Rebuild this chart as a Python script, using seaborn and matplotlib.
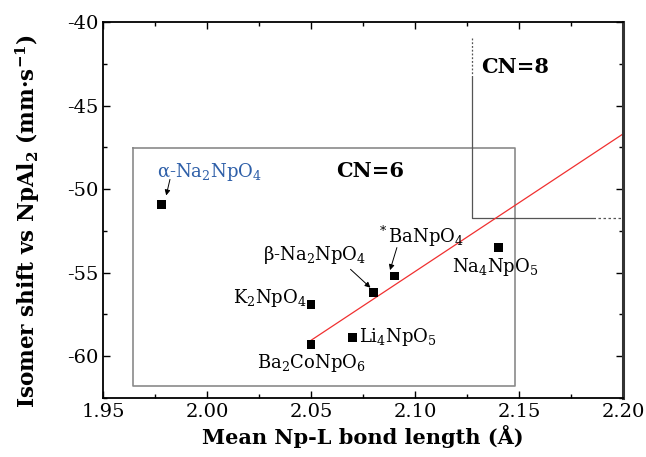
import matplotlib
matplotlib.use("Agg")
import matplotlib.pyplot as plt
import seaborn as sns
import pandas as pd
from matplotlib.ticker import MultipleLocator

# ---- data ----
compounds = ["α-Na$_2$NpO$_4$", "K$_2$NpO$_4$", "Ba$_2$CoNpO$_6$", "β-Na$_2$NpO$_4$",
             "$^*$BaNpO$_4$", "Li$_4$NpO$_5$", "Na$_4$NpO$_5$"]
bond_length = [1.978, 2.050, 2.050, 2.080, 2.090, 2.070, 2.140]
isomer_shift = [-50.9, -56.9, -59.3, -56.2, -55.2, -58.9, -53.5]
fit_x = [2.050, 2.200]
fit_y = [-59.05, -46.7]

df = pd.DataFrame({"x": bond_length, "y": isomer_shift, "name": compounds})
fit = pd.DataFrame({"x": fit_x, "y": fit_y})

sns.set_style("ticks")
plt.rcParams["font.family"] = ["DejaVu Serif"]
plt.rcParams["mathtext.fontset"] = "dejavuserif"
plt.rcParams["axes.unicode_minus"] = False
for k in ["text.color", "axes.labelcolor", "xtick.color", "ytick.color", "axes.edgecolor"]:
    plt.rcParams[k] = "black"

fig = plt.figure(figsize=(6.46, 4.57), dpi=100)
ax = fig.add_axes([0.1594, 0.1291, 0.805, 0.8228])

# boxes
ax.plot([1.9643, 2.1482, 2.1482, 1.9643, 1.9643], [-47.56, -47.56, -61.8, -61.8, -47.56],
        color="#8a8a8a", lw=1.2, zorder=1)
ax.plot([2.1276, 2.1276], [-40.96, -43.3], color="#555555", lw=0.9, ls=(0, (1.5, 1.5)), zorder=1)
ax.plot([2.1276, 2.1276, 2.1856], [-43.3, -51.75, -51.75], color="#555555", lw=0.9, zorder=1)
ax.plot([2.1856, 2.199], [-51.75, -51.75], color="#555555", lw=0.9, ls=(0, (2, 2)), zorder=1)

sns.lineplot(data=fit, x="x", y="y", ax=ax, color="#f03030", lw=0.9, zorder=2)
sns.scatterplot(data=df, x="x", y="y", ax=ax, marker="s", s=40, color="black",
                edgecolor="none", zorder=3)

fs = 13
# labels (left/baseline positions)
lab_pos = {
    0: (1.9758, -49.29),
    1: (2.0125, -56.83),
    2: (2.0240, -60.72),
    3: (2.0269, -54.24),
    4: (2.0815, -53.24),
    5: (2.0733, -59.13),
    6: (2.1176, -54.94),
}
for i, (tx, ty) in lab_pos.items():
    ax.text(tx, ty, compounds[i], fontsize=fs, ha="left", va="baseline",
            color="#2e5fa8" if i == 0 else "black")

arrow = dict(arrowstyle="-|>", color="black", lw=0.7, mutation_scale=8, shrinkA=0, shrinkB=0)
ax.annotate("", xy=(1.9804, -50.38), xytext=(1.9822, -49.42), arrowprops=arrow)
ax.annotate("", xy=(2.0786, -55.9), xytext=(2.0690, -54.8), arrowprops=arrow)
ax.annotate("", xy=(2.0880, -54.85), xytext=(2.0913, -53.5), arrowprops=arrow)

ax.text(2.062, -49.28, "CN=6", fontsize=15, fontweight="bold", ha="left", va="baseline")
ax.text(2.132, -43.03, "CN=8", fontsize=15, fontweight="bold", ha="left", va="baseline")

ax.set_xlim(1.95, 2.20)
ax.set_ylim(-62.5, -40)
ax.xaxis.set_major_locator(MultipleLocator(0.05))
ax.xaxis.set_minor_locator(MultipleLocator(0.025))
ax.yaxis.set_major_locator(MultipleLocator(5))
ax.yaxis.set_minor_locator(MultipleLocator(2.5))
ax.set_xticks([1.95, 2.00, 2.05, 2.10, 2.15, 2.20])
ax.set_xticklabels(["1.95", "2.00", "2.05", "2.10", "2.15", "2.20"])
ax.tick_params(which="both", direction="in", top=True, right=True, labelsize=14, color="black")
ax.tick_params(which="major", length=5, width=1)
ax.tick_params(which="minor", length=3, width=1)
for side in ["left", "bottom", "top"]:
    ax.spines[side].set_linewidth(1.3)
    ax.spines[side].set_color("black")
ax.spines["right"].set_linewidth(2.2)
ax.spines["right"].set_color("#333333")

ax.set_xlabel("Mean Np-L bond length (Å)", fontsize=15, fontweight="bold", labelpad=3)
ax.set_ylabel("Isomer shift vs NpAl$_\\mathbf{2}$ (mm·s$^\\mathbf{-1}$)", fontsize=15.5,
              fontweight="bold")
ax.yaxis.set_label_coords(-0.117, 0.47)

fig.savefig("out.png", dpi=100)
